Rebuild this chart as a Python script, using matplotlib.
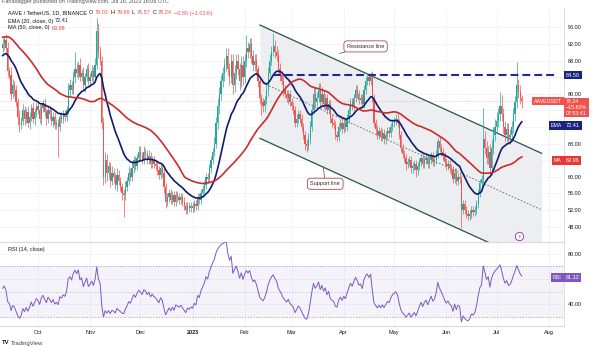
import matplotlib
matplotlib.use('Agg')
import matplotlib.pyplot as plt
import matplotlib.dates as mdates
import matplotlib.transforms as mtrans
import numpy as np
import pandas as pd

plt.rcParams['font.family'] = ['Liberation Sans', 'DejaVu Sans']

############# daily closes #############
# Jul 22 - Sep 9 2022, left of the visible window, only seeds EMA / MA / RSI
pre_close = [90, 88, 91, 86, 89, 95, 100, 104, 101, 99,
             97, 95, 98, 96, 99, 97, 100, 103, 101, 104,
             108, 106, 109, 107, 104, 102, 98, 96, 88, 87,
             89, 86, 88, 90, 91, 85, 84, 83, 86, 84, 82,
             86, 88, 87, 86, 88, 87, 90, 89, 91]

sep_close = [92, 93, 91, 85.5, 84.5, 80, 82, 81, 78, 74.5, 72.5, 73.5, 76, 74, 75.5, 73, 74.5, 76.5, 74, 75.5, 77]
oct_close = [76, 74, 76.5, 77.5, 75.5, 74, 76, 75, 73.5, 74.5, 72.5, 73, 72, 74.5, 74, 75, 74.5, 76, 81, 82,
             81, 84, 86, 85, 87, 84, 85, 82, 84, 86, 83]
nov_close = [84, 85.5, 84, 87, 95, 90, 88, 73, 60, 64, 61, 62.5, 59, 61, 60, 58, 60.5, 59, 57.5, 56,
             55.5, 57.5, 59, 61, 60, 62, 64, 62.5, 64.5, 66]
dec_close = [65, 64, 66, 65.5, 64, 65, 63, 64, 63, 62.5, 61.5, 60.5, 62, 61, 57.5, 54, 55, 56, 54.5, 55.5,
             54, 55.5, 55, 54.5, 55, 54, 53, 52, 53, 52.5, 53]
jan_close = [52.5, 53.5, 53, 55, 54.5, 56, 57, 58, 60, 59.5, 62, 64, 66, 68, 73, 77, 80, 83, 85, 87,
             89, 86, 84, 88, 82, 85, 88, 86, 83, 87, 84]
feb_close = [88, 91, 90, 92, 89, 87, 88, 86, 83, 79, 78, 77, 78.5, 81, 85, 88, 90, 91.5, 90, 89,
             86, 84.5, 83, 81, 80, 79, 80, 78]
mar_close = [77, 76, 73, 74, 75, 74, 72, 70, 68, 67.5, 69, 72, 76, 80, 78, 79, 81, 78, 80, 77.5,
             79, 76, 77.5, 74, 73, 72.5, 70, 69.5, 72, 73, 71.5]
apr_close = [73, 72, 74, 76, 78, 77, 79, 81, 80, 78.5, 79, 77.5, 81, 83, 84, 83, 84.5, 79, 73, 71.5,
             70, 71, 69.5, 70.5, 69, 70, 71, 70.5, 72, 73]
may_close = [73.5, 74, 73, 70, 67, 65.5, 64.5, 63, 63.5, 64, 62, 62.5, 63, 61.5, 62.5, 63.5, 64.5, 63, 64, 64.5,
             63, 64, 65, 63.5, 64, 65.5, 68.5, 67, 66, 65, 63.5]
jun_close = [62.5, 63, 62, 61.5, 59.5, 61, 59, 60, 59.5, 52, 53.5, 52, 51, 50.5, 51, 52, 51.5, 52, 53.5, 56,
             58.5, 59.5, 69, 67, 64.5, 66, 62, 67, 70, 72]
jul_close = [73.5, 75, 77, 75, 72, 70, 71.5, 69.5, 70, 72, 75, 78, 82, 80.5, 79.04, 78.24]

# wick lengths above / below the body
up_sep = [1.5, 1, 1.5, 1.5, 1, 2, 1.5, 1, 1, 1, 1.5, 1, 1.5, 1, 1, 1.5, 1, 1, 1.5, 1, 1]
lo_sep = [1, 1.5, 1, 1.5, 1, 1.5, 1, 1.5, 1, 2, 1.7, 1, 1, 1.5, 1, 1, 1.5, 1, 1, 1.5, 1]
up_oct = [1, 1.5, 1, 1, 1.5, 1, 1, 1, 1.5, 1, 1, 1, 1, 1, 1, 1, 1, 1, 1.5, 1.5, 1, 1.5, 4, 1.5, 1, 1.5, 1, 1.5, 1, 1, 1.5]
lo_oct = [1, 1, 1.5, 1, 1, 1.5, 1, 1, 1, 1.5, 1, 1, 7.2, 1, 1, 1, 1, 1, 1, 1.5, 1, 1, 1.5, 1, 1.5, 1, 1, 1, 1.5, 1, 1]
up_nov = [1, 1.5, 1, 1.5, 3.2, 2, 1.5, 1, 1.5, 2, 1.5, 1, 1, 1.5, 1, 1, 1.5, 1, 1, 1, 1, 1.5, 1, 1.5, 1, 1.5, 1, 1, 1, 1.5]
lo_nov = [1, 1, 1.5, 1, 1, 1.5, 1, 1.5, 2, 1.5, 2, 1.5, 1.5, 1, 1.5, 1, 1.5, 1, 1, 1.5, 5.2, 1, 1, 1, 1, 1, 1, 1, 1, 1]
up_dec = [1.5, 1, 1.5, 1, 1, 1.5, 1, 1, 1, 1, 1, 1, 1.5, 1, 1, 1, 1, 1, 1, 1, 1, 1, 1, 1, 1, 1, 1, 1, 1, 1, 1]
lo_dec = [1, 1, 1, 1, 1, 1, 1, 1, 1, 1, 1, 1, 1, 1, 1.5, 1.5, 1, 1, 1, 1, 1, 1, 1, 1, 1, 1, 1, 1, 1, 1, 1]
up_jan = [1, 1, 1, 1, 1, 1, 1, 1, 1, 1, 1, 1, 1, 1.5, 1.5, 2, 1.5, 1.5, 1.5, 1.5, 2, 2, 1.5, 1.5, 1.5, 2, 1.5, 1.5, 1.5, 2, 2]
lo_jan = [1, 1, 1, 1, 1, 1, 1, 1, 1, 1, 1, 1, 1, 1, 1, 1.5, 2, 1.5, 1.5, 2, 1.5, 1.5, 2, 1.5, 2, 1.5, 1.5, 1.5, 2, 1.5, 2]
up_feb = [1.5, 3.1, 1.5, 1.5, 1.5, 1.5, 1.5, 1.5, 1, 1, 1, 1, 1, 1.5, 1.5, 1.5, 1.5, 3.1, 1.5, 1.5, 1.5, 1.5, 1, 1.5, 1, 1, 1, 1]
lo_feb = [1.5, 1.5, 1.5, 1.5, 1.5, 1.5, 1.5, 1.5, 1.5, 1.5, 3.2, 1.5, 1.5, 1, 1.5, 1, 1, 1, 1.5, 1, 1, 1.5, 1, 1.5, 1, 1, 1.5, 1]
up_mar = [1, 1, 1, 1, 1, 1, 1, 1, 1, 1, 1.5, 1.5, 1.5, 1.5, 1.5, 1.5, 1.5, 1.5, 1.5, 1, 1, 1, 1, 1, 1, 1, 1, 1, 1, 1, 1]
lo_mar = [1, 1, 1, 1, 1, 1, 1, 1, 1.5, 1.5, 1, 1, 1, 1, 1.5, 1, 1, 1.5, 1, 1, 1.5, 1, 1, 1, 1, 1, 1, 1, 1, 1, 1]
up_apr = [1, 1, 1, 1, 1, 1, 1, 1, 1, 1, 1, 1, 1, 1, 1, 1, 0.8, 1, 1, 1, 1, 1, 1, 1, 1, 1, 1, 1, 1, 1]
lo_apr = [1, 1, 1, 1, 1, 1, 1, 1, 1, 1, 1, 1, 1, 1, 1, 1, 1, 1, 1, 1.5, 1, 1, 1, 1, 1, 1, 1, 1, 1, 1]
up_may = [1, 1, 1, 1, 1, 1, 1, 1, 1, 1, 1, 1, 1, 1, 1, 1, 1, 1, 1, 1, 1, 1, 1, 1, 1, 1, 1, 1, 1, 1, 1]
lo_may = [1, 1, 1, 1, 1, 1, 1, 1.5, 1, 1, 1, 1, 1, 1.5, 1, 1, 1, 1, 1, 1, 1, 1, 1, 1, 1, 1, 1, 1, 1, 1, 1]
up_jun = [1, 1, 1, 1, 1, 1, 1, 1, 1, 1, 1, 1, 1, 1, 1, 1, 1, 1, 1, 1, 1, 1, 7.6, 2, 1.5, 1.5, 2, 2, 2, 2]
lo_jun = [1, 1, 1, 1, 1, 1, 1, 1, 1, 4.4, 1, 1, 1, 1, 1, 1, 1, 1, 1, 1, 1, 1, 1, 1.5, 1.5, 1.5, 1, 1.5, 1.5, 1.5]
up_jul = [2, 1.5, 3.4, 2.7, 1.5, 1.5, 1.5, 1.5, 1.5, 1.5, 1.5, 1.5, 5.7, 1.5, 1.5, 0.65]
lo_jul = [1.5, 1.5, 1.5, 1.5, 1.5, 1.5, 1.5, 1.5, 1.5, 1.5, 1.5, 1.5, 1.5, 1.5, 1.5, 1.67]

month_labels = ['Oct', 'Nov', 'Dec', '2023', 'Feb', 'Mar', 'Apr', 'May', 'Jun', 'Jul', 'Aug']
price_ticks = [48, 52, 56, 60, 64, 68, 72, 76, 80, 84, 88, 92, 96]
hidden_ticks = [64, 72, 76, 84]  # covered by the price tags

resistance = 84.50
last_price = 78.24
ema_last = 72.41
ma_last = 63.96
rsi_last = 61.12

############# build candles and indicators #############
closes = (sep_close + oct_close + nov_close + dec_close + jan_close + feb_close +
          mar_close + apr_close + may_close + jun_close + jul_close)
up_wick = up_sep + up_oct + up_nov + up_dec + up_jan + up_feb + up_mar + up_apr + up_may + up_jun + up_jul
lo_wick = lo_sep + lo_oct + lo_nov + lo_dec + lo_jan + lo_feb + lo_mar + lo_apr + lo_may + lo_jun + lo_jul

dates = pd.date_range('2022-09-10', periods=len(closes), freq='D')
pre_dates = pd.date_range(end='2022-09-09', periods=len(pre_close), freq='D')
full = pd.Series(pre_close + closes, index=pre_dates.append(dates))

ema = full.ewm(span=20, adjust=False).mean()[dates]
ma = full.rolling(50, min_periods=1).mean()[dates]
delta = full.diff()
gain = delta.clip(lower=0).ewm(alpha=1 / 14, adjust=False).mean()
loss = (-delta.clip(upper=0)).ewm(alpha=1 / 14, adjust=False).mean()
rsi = (100 - 100 / (1 + gain / loss))[dates]

c = np.array(closes, dtype=float)
o = np.array([pre_close[-1]] + closes[:-1], dtype=float)
hi = np.maximum(o, c) + np.array(up_wick)
lo = np.minimum(o, c) - np.array(lo_wick)
x = mdates.date2num(dates)
base = mdates.date2num(pd.Timestamp('2022-10-01'))

############# figure #############
fig = plt.figure(figsize=(6, 3.47), dpi=100, facecolor='white')
ax = fig.add_axes([0, 0.3026, 0.94, 0.6743])
ax2 = fig.add_axes([0, 0.0605, 0.94, 0.2421], sharex=ax)

ax.set_xlim(base - 22.6, base + 313.1)
ax.set_ylim(44.27, 100.65)
ax2.set_ylim(22.6, 89.5)

month_x = mdates.date2num(pd.date_range('2022-10-01', periods=len(month_labels), freq='MS'))
grid_c = '#eef0f4'
for a in (ax, ax2):
    a.set_axisbelow(True)
    for s in ('top', 'left', 'bottom'):
        a.spines[s].set_visible(False)
    a.spines['right'].set_color('#d6d9df')
    a.spines['right'].set_linewidth(0.6)
    a.yaxis.tick_right()
    a.tick_params(axis='both', length=0, labelsize=4, labelcolor='#131722', pad=3)
    a.set_xticks(month_x)
    a.grid(True, color=grid_c, lw=0.5)
ax2.spines['top'].set_visible(True)
ax2.spines['top'].set_color('#d6d9df')
ax2.spines['bottom'].set_visible(True)
ax2.spines['bottom'].set_color('#d6d9df')
ax.tick_params(axis='x', labelbottom=False)
ax2.set_xticklabels(month_labels)
for lab in ax2.get_xticklabels():
    if lab.get_text() == '2023':
        lab.set_fontweight('bold')

ax.set_yticks(price_ticks)
ax.set_yticklabels(['' if t in hidden_ticks else f'{t:.2f}' for t in price_ticks])
ax2.set_yticks([40, 60, 80])
ax2.set_yticklabels(['40.00', '', '80.00'])

# descending channel drawn on the chart
ch_x = [base + 132.1, base + 299.8]
ch_top = [96.55, 65.64]
ch_bot = [69.25, 38.34]
ch_mid = [(a + b) / 2 for a, b in zip(ch_top, ch_bot)]
ax.fill_between(ch_x, ch_bot, ch_top, color='#eceef1', lw=0, zorder=1)
ax.plot(ch_x, ch_top, color='#24564a', lw=0.9, zorder=2)
ax.plot(ch_x, ch_bot, color='#24564a', lw=0.9, zorder=2)
ax.plot(ch_x, ch_mid, color='#666666', lw=0.6, ls=(0, (2, 2)), zorder=2)

# candles
col = np.where(c >= o, '#26a69a', '#ef5350')
ax.vlines(x, lo, hi, colors=col, lw=0.5, zorder=3)
ax.bar(x, np.maximum(np.abs(c - o), 0.15), bottom=np.minimum(o, c), width=0.75, color=col, lw=0, zorder=3)

ax.axhline(last_price, color='#ef5350', lw=0.5, ls=(0, (1, 2)), alpha=0.6, zorder=2)
ax.plot(x, ema, color='#101c6e', lw=1.2, zorder=4)
ax.plot(x, ma, color='#cc2b2b', lw=1.2, zorder=4)
ax.plot([base + 139.9, base + 309.5], [resistance, resistance], color='#232a8c', lw=1.5,
        ls=(0, (3.8, 1.9)), zorder=4)

# callouts
box = dict(boxstyle='round,pad=0.55,rounding_size=0.6', fc='white', ec='#a05050', lw=0.6)
arrow = dict(arrowstyle='-', color='#a05050', lw=0.6, shrinkA=0, shrinkB=0)
ax.annotate('Resistance line', xy=(base + 179.5, 89.7), xytext=(base + 195, 91.4), fontsize=4,
            color='#3a2a2a', ha='center', va='center', bbox=box, arrowprops=arrow, zorder=6)
ax.annotate('Support line', xy=(base + 169.8, 62.4), xytext=(base + 171, 58.3), fontsize=4,
            color='#3a2a2a', ha='center', va='center', bbox=box, arrowprops=arrow, zorder=6)

ax.plot(base + 286.3, 45.7, marker='o', ms=6, mfc='white', mec='#9c27b0', mew=0.6, zorder=6)
ax.text(base + 286.3, 45.7, '\u26a1', fontsize=3.5, color='#9c27b0', ha='center', va='center', zorder=7)

# RSI pane
ax2.axhspan(30, 70, color='#7e57c2', alpha=0.07, lw=0)
for lvl, al in ((70, 1), (50, 0.6), (30, 1)):
    ax2.axhline(lvl, color='#9598a1', lw=0.5, ls=(0, (2, 2)), alpha=al)
ax2.plot(x, rsi, color='#7e57c2', lw=0.7, zorder=3)


def tag(axis, y, s, fc, xpos=1.003, ha='left', va='center', fs=4):
    tr = mtrans.blended_transform_factory(axis.transAxes, axis.transData)
    axis.text(xpos, y, s, transform=tr, ha=ha, va=va, fontsize=fs, color='white',
              linespacing=1.15, bbox=dict(boxstyle='square,pad=0.35', fc=fc, ec='none'),
              clip_on=False, zorder=10)


tag(ax, resistance, f'{resistance:.2f}', '#1a237e')
# the price tag hangs below the price line, its first row on the price
tag(ax, last_price + 0.4, f'{last_price:.2f}\n\u221215.60%\n07:53:41', '#ef5350', va='top', fs=3.8)
tag(ax, last_price, 'AAVEUSDT', '#ef5350', xpos=0.996, ha='right', fs=3.8)
tag(ax, ema_last, f'{ema_last:.2f}', '#1a237e')
tag(ax, ema_last, 'EMA', '#1a237e', xpos=0.996, ha='right', fs=3.8)
tag(ax, ma_last, f'{ma_last:.2f}', '#e53935')
tag(ax, ma_last, 'MA', '#e53935', xpos=0.996, ha='right', fs=3.8)
tag(ax2, rsi_last, f'{rsi_last:.2f}', '#7e57c2')
tag(ax2, rsi_last, 'RSI', '#7e57c2', xpos=0.996, ha='right', fs=3.8)


def text_row(x_px, y_px, parts, fs=4):
    prev = None
    for s, color, weight in parts:
        if prev is None:
            prev = fig.text(x_px / 600, 1 - y_px / 347, s, fontsize=fs, color=color,
                            fontweight=weight, va='center')
        else:
            prev = ax.annotate(s, xy=(1, 0.5), xycoords=prev, xytext=(1.3, 0),
                               textcoords='offset points', va='center', fontsize=fs,
                               color=color, fontweight=weight, annotation_clip=False)


dark = '#131722'
red = '#ef5350'
text_row(2, 2, [('Fanadagger published on TradingView.com, Jul 16, 2023 16:06 UTC', '#555555', 'normal')])
text_row(8, 13, [('AAVE / TetherUS, 1D, BINANCE', dark, 'normal'), ('O', dark, 'normal'),
                 ('79.02', red, 'normal'), ('H', dark, 'normal'), ('79.69', red, 'normal'),
                 ('L', dark, 'normal'), ('76.57', red, 'normal'), ('C', dark, 'normal'),
                 ('78.24', red, 'normal'), ('\u22120.80 (\u22121.01%)', red, 'normal')])
text_row(8, 21, [('EMA (20, close, 0)', dark, 'normal'), (f'{ema_last:.2f}', '#1a237e', 'normal')])
text_row(8, 28, [('MA (50, close, 0)', dark, 'normal'), (f'{ma_last:.2f}', '#e53935', 'normal')])
text_row(8, 249, [('RSI (14, close)', dark, 'normal'), (f'{rsi_last:.2f}', '#7e57c2', 'normal')])
text_row(2, 343, [('TV', dark, 'bold'), ('TradingView', '#444444', 'normal')], fs=4.2)

fig.savefig('out.png', dpi=100, facecolor='white')
